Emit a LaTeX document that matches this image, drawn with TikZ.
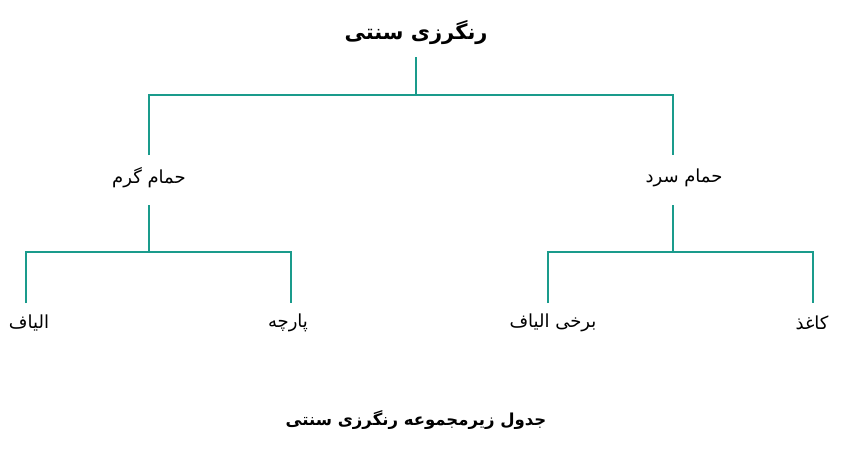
\documentclass[tikz,border=0pt]{standalone}
\usepackage{fontspec}
\usepackage{tikz}
\usetikzlibrary{calc}
\TeXXeTstate=1
\newfontfamily\farsi[Script=Arabic]{DejaVu Sans}
\definecolor{treeteal}{RGB}{26,155,140}
\newcommand*{\pw   }{861}
\newcommand*{\ph   }{463}
\newcommand*{\cx   }{416}
\newcommand*{\lx   }{149}
\newcommand*{\rx   }{673}
\newcommand*{\bary }{95}
\newcommand*{\subj }{252}
\newcommand*{\midy }{178}
\newcommand*{\leafy}{323}
\newcommand*{\fa}[1]{{\farsi\beginR #1\endR}}

\begin{document}
\begin{tikzpicture}[x=1pt, y=-1pt,
        branch/.style = {draw=treeteal, line width=2.6pt},
        head/.style   = {inner sep=0pt, minimum height=48pt, font=\fontsize{21}{25}\selectfont\bfseries},
        kind/.style   = {inner sep=0pt, minimum height=46pt, font=\fontsize{18}{22}\selectfont},
        leaf/.style   = {inner sep=0pt, minimum height=36pt, font=\fontsize{18}{22}\selectfont},
        note/.style   = {inner sep=0pt, font=\fontsize{16.5}{20}\selectfont\bfseries}]
    \useasboundingbox (0,0) rectangle (\pw,\ph);
        \node [head] (dyeing) at (\cx,33)      {\fa{رنگرزی سنتی}};
        \node [kind] (hot)    at (\lx,\midy)   {\fa{حمام گرم}};
        \node [kind] (cold)   at (\rx+11,\midy){\fa{حمام سرد}};
        \node [leaf] (fibre)  at (29,\leafy)   {\fa{الیاف}};
        \node [leaf] (cloth)  at (288,\leafy)  {\fa{پارچه}};
        \node [leaf] (some)   at (553,\leafy)  {\fa{برخی الیاف}};
        \node [leaf] (paper)  at (812,\leafy)  {\fa{کاغذ}};
        \node [note] (title)  at (\cx,420)     {\fa{جدول زیرمجموعه رنگرزی سنتی}};
        % junctions
        \coordinate (topj)  at (\cx,\bary);
        \coordinate (hotj)  at (\lx,\subj);
        \coordinate (coldj) at (\rx,\subj);
        \draw [branch] (dyeing.south) -- (topj);
        \draw [branch] (\lx,155) |- (topj) -| (\rx,155);
        \draw [branch] (\lx,205) -- (hotj);
        \draw [branch] (\rx,205) -- (coldj);
        \draw [branch] (26,303) |- (hotj) -| (291,303);
        \draw [branch] (548,303) |- (coldj) -| (813,303);
    \end{tikzpicture}
\end{document}
